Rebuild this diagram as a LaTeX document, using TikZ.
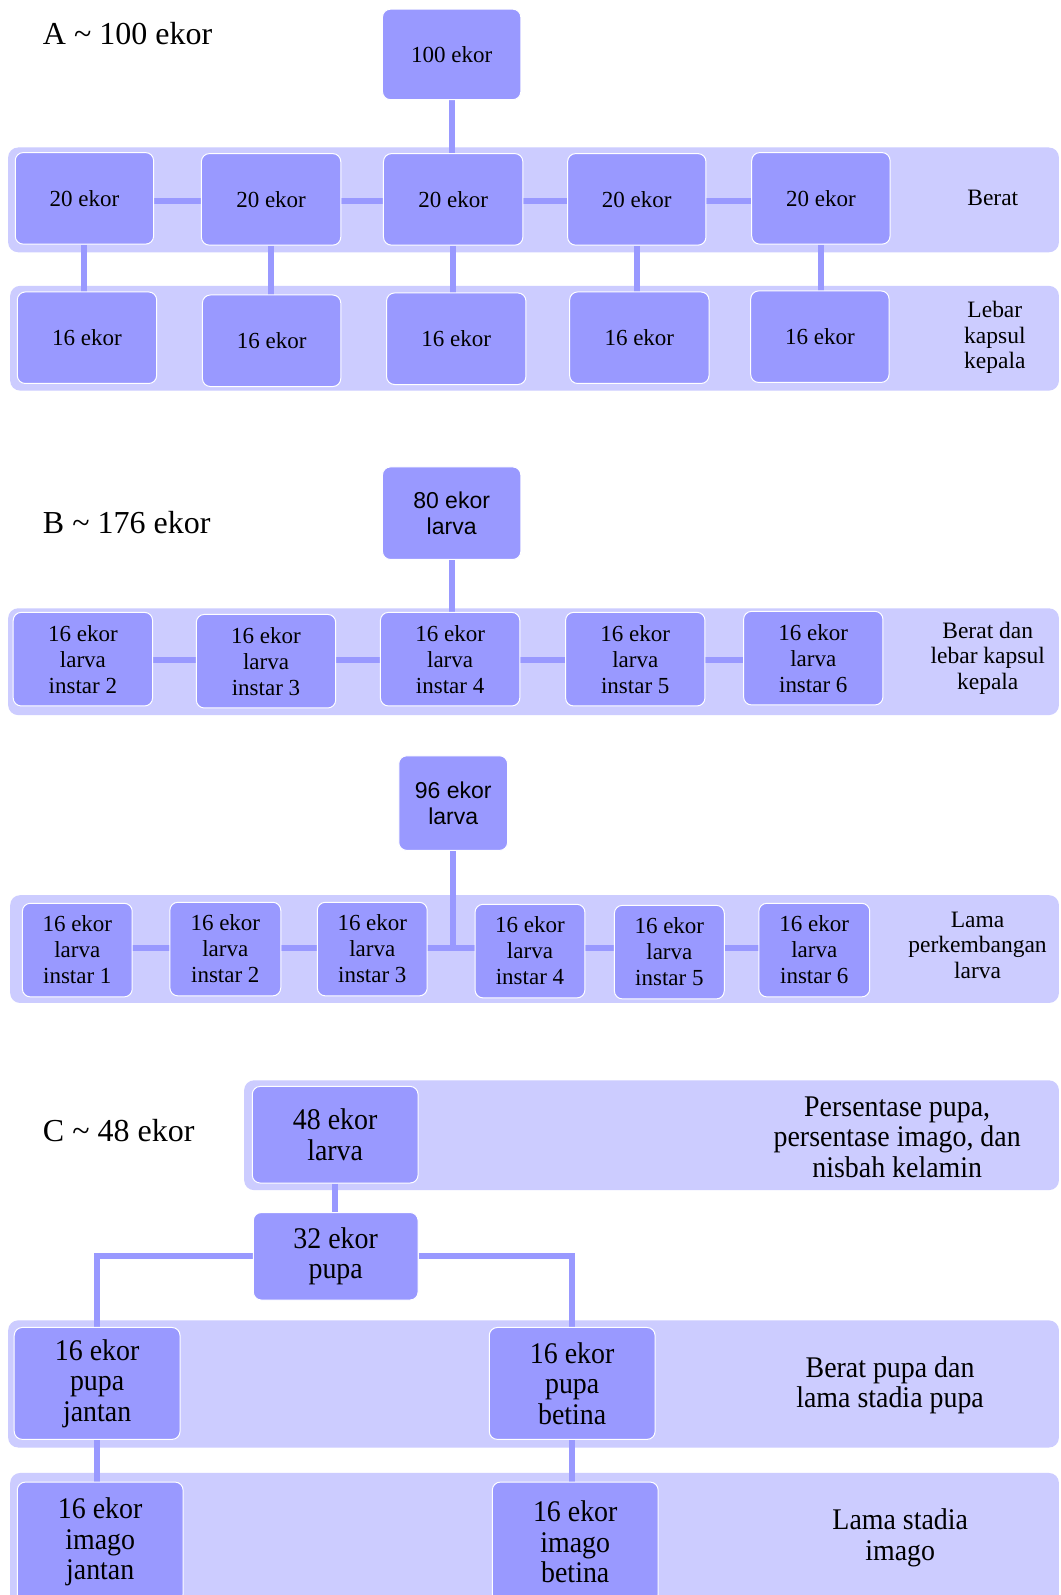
\documentclass[tikz,border=0pt]{standalone}
\usepackage{fontspec}
\setmainfont{Liberation Serif}
\setsansfont{Liberation Sans}
\newfontfamily\condserif{Liberation Serif}[FakeStretch=0.93]
\definecolor{boxfill}{HTML}{9999FF}
\definecolor{bandfill}{HTML}{CCCCFF}
\pgfdeclarelayer{paper}
\pgfdeclarelayer{bandlayer}
\pgfdeclarelayer{connlayer}
\pgfsetlayers{paper,bandlayer,connlayer,main}
\begin{document}
\begin{tikzpicture}[x=1.0173pt,y=-1.0173pt,
  spanbox/.style n args={4}{minimum width={(#3-#1)*1.0173pt}, minimum height={(#4-#2)*1.0173pt}, at={({(#1+#3)/2},{(#2+#4)/2})}},
  box/.style={draw=white, line width=1pt, fill=boxfill, rounded corners=8pt, inner sep=0pt, align=center, font=\fontsize{23}{26}\selectfont},
  bigbox/.style={box, font=\condserif\fontsize{30}{30.5}\selectfont},
  sansbox/.style={box, font=\sffamily\fontsize{23}{26.5}\selectfont},
  band/.style={fill=bandfill, rounded corners=10pt, inner sep=0pt},
  conn/.style={draw=boxfill, line width=6pt},
  lbl/.style={align=center, inner sep=0pt, font=\fontsize{23.5}{25.5}\selectfont},
  biglbl/.style={align=center, inner sep=0pt, font=\condserif\fontsize{30}{30.5}\selectfont},
  head/.style={anchor=base west, inner sep=0pt, font=\fontsize{32}{36}\selectfont}]
\useasboundingbox (0,0) rectangle (1043,1568);
\begin{pgfonlayer}{paper}
\fill[white] (0,0) rectangle (1043,1568);
\end{pgfonlayer}
% headings
\node[head] (hA) at (42,44) {A \textasciitilde\ 100 ekor};
\node[head] (hB) at (42,524) {B \textasciitilde\ 176 ekor};
\node[head] (hC) at (42,1122) {C \textasciitilde\ 48 ekor};
% section A
\node[box, spanbox={376}{9}{512}{98}] (t100) {100 ekor};
\node[box, spanbox={15}{150}{151}{240}] (a1) {20 ekor};
\node[box, spanbox={198}{151}{335}{241}] (a2) {20 ekor};
\node[box, spanbox={377}{151}{514}{241}] (a3) {20 ekor};
\node[box, spanbox={558}{151}{694}{241}] (a4) {20 ekor};
\node[box, spanbox={739}{150}{875}{240}] (a5) {20 ekor};
\node[box, spanbox={17}{287}{154}{377}] (b1) {16 ekor};
\node[box, spanbox={199}{290}{335}{380}] (b2) {16 ekor};
\node[box, spanbox={380}{288}{517}{378}] (b3) {16 ekor};
\node[box, spanbox={560}{287}{697}{377}] (b4) {16 ekor};
\node[box, spanbox={738}{286}{874}{376}] (b5) {16 ekor};
\node[lbl] (lA1) at (976,195) {Berat};
\node[lbl] (lA2) at (978,332) {Lebar\\kapsul\\kepala};
% section B
\node[sansbox, spanbox={376}{459}{512}{550}] (t80) {80 ekor\\larva};
\node[box, spanbox={13}{602}{150}{694}] (d1) {16 ekor\\larva\\instar 2};
\node[box, spanbox={193}{604}{330}{696}] (d2) {16 ekor\\larva\\instar 3};
\node[box, spanbox={374}{602}{511}{694}] (d3) {16 ekor\\larva\\instar 4};
\node[box, spanbox={556}{602}{693}{694}] (d4) {16 ekor\\larva\\instar 5};
\node[box, spanbox={731}{601}{868}{693}] (d5) {16 ekor\\larva\\instar 6};
\node[lbl] (lB1) at (971,647) {Berat dan\\lebar kapsul\\kepala};
\node[sansbox, spanbox={392}{743}{499}{836}] (t96) {96 ekor\\larva};
\node[box, spanbox={22}{888}{130}{980}] (e1) {16 ekor\\larva\\instar 1};
\node[box, spanbox={167}{887}{276}{979}] (e2) {16 ekor\\larva\\instar 2};
\node[box, spanbox={312}{887}{420}{979}] (e3) {16 ekor\\larva\\instar 3};
\node[box, spanbox={467}{889}{575}{981}] (e4) {16 ekor\\larva\\instar 4};
\node[box, spanbox={604}{890}{712}{982}] (e5) {16 ekor\\larva\\instar 5};
\node[box, spanbox={746}{888}{855}{980}] (e6) {16 ekor\\larva\\instar 6};
\node[lbl] (lB2) at (961,929) {Lama\\perkembangan\\larva};
% section C
\node[bigbox, spanbox={248}{1068}{411}{1163}] (c48) {48 ekor\\larva};
\node[bigbox, spanbox={249}{1192}{411}{1278}] (c32) {32 ekor\\pupa};
\node[bigbox, spanbox={14}{1305}{177}{1415}] (pj) {16 ekor\\pupa\\jantan};
\node[bigbox, spanbox={481}{1305}{644}{1415}] (pb) {16 ekor\\pupa\\betina};
\node[bigbox, spanbox={17}{1457}{180}{1575}] (ij) {16 ekor\\imago\\jantan};
\node[bigbox, spanbox={484}{1457}{647}{1575}] (ib) {16 ekor\\imago\\betina};
\node[biglbl] (lC1) at (882,1118) {Persentase pupa,\\persentase imago, dan\\nisbah kelamin};
\node[biglbl] (lC2) at (875,1362) {Berat pupa dan\\lama stadia pupa};
\node[biglbl] (lC3) at (885,1512) {Lama stadia\\imago};
% bands
\begin{pgfonlayer}{bandlayer}
\node[band, spanbox={8}{145}{1041}{248}] (bandA1) {};
\node[band, spanbox={10}{281}{1041}{384}] (bandA2) {};
\node[band, spanbox={8}{598}{1041}{703}] (bandB1) {};
\node[band, spanbox={10}{880}{1041}{986}] (bandB2) {};
\node[band, spanbox={240}{1062}{1041}{1170}] (bandC1) {};
\node[band, spanbox={8}{1298}{1041}{1423}] (bandC2) {};
\node[band, spanbox={10}{1448}{1041}{1590}] (bandC3) {};
\end{pgfonlayer}
% connectors
\begin{pgfonlayer}{connlayer}
\coordinate (yA) at (0,198);
\draw[conn] (a1 |- yA) -- (a5 |- yA);
\draw[conn] (t100) -- (t100 |- a3);
\foreach \i in {1,...,5} \draw[conn] (a\i) -- (a\i |- b\i);
\coordinate (yB) at (0,649);
\draw[conn] (d1 |- yB) -- (d5 |- yB);
\draw[conn] (t80) -- (t80 |- d3);
\coordinate (yE) at (0,932);
\draw[conn] (e1 |- yE) -- (e6 |- yE);
\draw[conn] (t96) -- (t96 |- yE);
\draw[conn] (c48) -- (c48 |- c32);
\draw[conn] (c32) -| (pj);
\draw[conn] (c32) -| (pb);
\draw[conn] (pj) -- (pj |- ij);
\draw[conn] (pb) -- (pb |- ib);
\end{pgfonlayer}
\end{tikzpicture}
\end{document}
